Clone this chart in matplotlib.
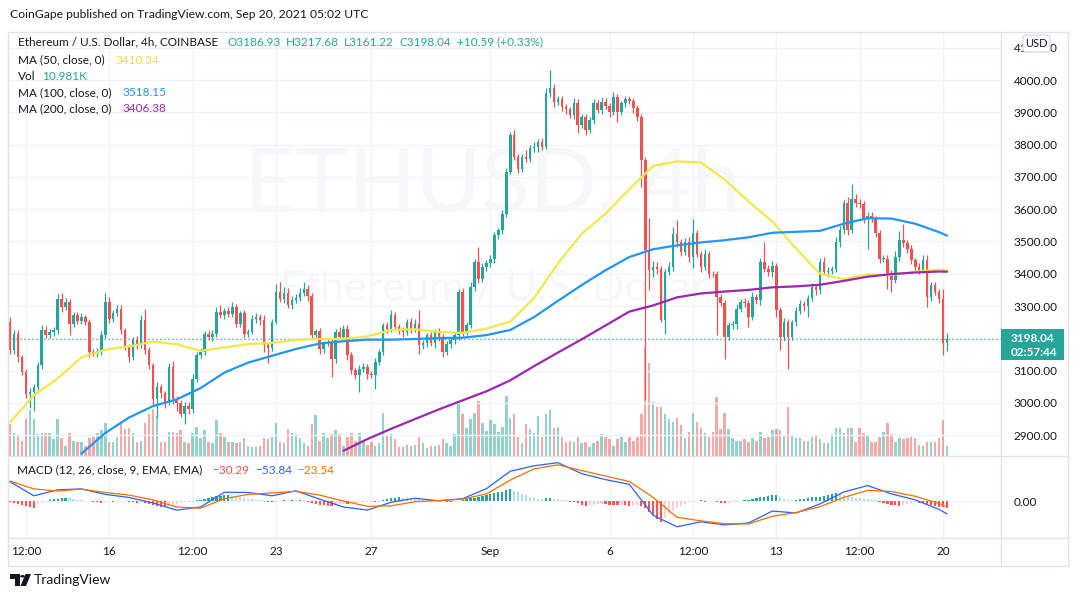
import matplotlib
matplotlib.use("Agg")
import matplotlib.pyplot as plt
import numpy as np
from matplotlib.patches import Rectangle, Polygon, Circle, FancyBboxPatch
from matplotlib.lines import Line2D

FONT = ['Lato', 'DejaVu Sans']
plt.rcParams['font.family'] = FONT

# ---------------- data ----------------
first_open = 3251
closes = [3163, 3215, 3142, 3096, 3028, 3035, 3050, 3116, 3225, 3210,
          3220, 3225, 3323, 3297, 3313, 3246, 3271, 3255, 3265, 3250,
          3158, 3155, 3160, 3210, 3313, 3261, 3277, 3292, 3225, 3173,
          3142, 3194, 3180, 3256, 3163, 3116, 3013, 3049, 3030, 3003,
          3111, 3013, 3000, 2966, 2992, 2980, 3075, 3147, 3158, 3215,
          3205, 3215, 3282, 3272, 3285, 3275, 3297, 3246, 3277, 3215,
          3220, 3261, 3266, 3256, 3178, 3170, 3251, 3344, 3323, 3340,
          3303, 3320, 3325, 3340, 3354, 3330, 3209, 3222, 3168, 3185,
          3188, 3137, 3220, 3204, 3230, 3147, 3101, 3085, 3106, 3110,
          3090, 3088, 3127, 3158, 3240, 3230, 3271, 3235, 3225, 3220,
          3250, 3230, 3245, 3178, 3185, 3209, 3185, 3219, 3205, 3158,
          3183, 3194, 3209, 3344, 3220, 3240, 3359, 3437, 3385, 3420,
          3432, 3447, 3519, 3535, 3586, 3716, 3829, 3762, 3726, 3762,
          3757, 3788, 3793, 3809, 3793, 3959, 3974, 3933, 3940, 3917,
          3910, 3891, 3928, 3860, 3886, 3845, 3876, 3928, 3907, 3933,
          3920, 3902, 3948, 3902, 3928, 3940, 3935, 3912, 3886, 3752,
          3473, 3411, 3420, 3415, 3256, 3405, 3421, 3524, 3499, 3468,
          3499, 3452, 3525, 3462, 3421, 3462, 3400, 3398, 3328, 3310,
          3204, 3240, 3245, 3292, 3313, 3308, 3266, 3328, 3318, 3437,
          3416, 3406, 3425, 3287, 3204, 3250, 3204, 3250, 3286, 3307,
          3300, 3325, 3359, 3349, 3437, 3406, 3410, 3415, 3499, 3535,
          3618, 3535, 3633, 3620, 3615, 3571, 3580, 3570, 3525, 3447,
          3447, 3401, 3380, 3452, 3504, 3494, 3478, 3442, 3421, 3411,
          3442, 3328, 3364, 3344, 3323, 3186.93, 3198.04]

upper_wick = [14, 12, 10, 8, 10, 12, 8, 10, 15, 12,
              10, 10, 15, 18, 12, 10, 12, 10, 12, 8,
              10, 8, 10, 12, 28, 15, 10, 12, 10, 8,
              8, 10, 12, 15, 36, 10, 8, 15, 10, 8,
              12, 20, 10, 8, 12, 10, 15, 10, 12, 8,
              10, 10, 15, 20, 10, 12, 15, 10, 8, 10,
              8, 10, 12, 10, 15, 8, 10, 25, 30, 20,
              15, 10, 12, 15, 20, 12, 10, 8, 10, 8,
              10, 12, 8, 15, 10, 12, 10, 8, 10, 15,
              10, 8, 12, 10, 8, 10, 18, 10, 8, 10,
              10, 12, 15, 42, 10, 8, 12, 10, 12, 8,
              8, 10, 12, 10, 12, 10, 15, 10, 46, 12,
              10, 12, 10, 8, 10, 12, 10, 15, 8, 10,
              20, 10, 15, 8, 10, 15, 57, 15, 10, 12,
              10, 8, 15, 12, 10, 8, 10, 12, 10, 15,
              12, 10, 15, 10, 8, 12, 10, 8, 10, 10,
              10, 100, 20, 15, 10, 10, 15, 20, 42, 10,
              12, 15, 46, 10, 8, 15, 10, 8, 10, 8,
              10, 12, 10, 15, 10, 12, 10, 15, 10, 12,
              62, 10, 15, 8, 10, 12, 10, 8, 10, 12,
              10, 8, 12, 10, 12, 15, 10, 8, 15, 12,
              12, 20, 45, 15, 12, 10, 12, 10, 8, 10,
              10, 12, 10, 20, 30, 51, 12, 10, 8, 12,
              15, 15, 12, 10, 10, 31, 19.64]

lower_wick = [10, 12, 15, 10, 12, 45, 60, 10, 12, 10,
              8, 12, 10, 15, 10, 37, 10, 12, 10, 10,
              15, 10, 12, 10, 8, 12, 10, 8, 12, 10,
              15, 10, 12, 10, 12, 10, 20, 60, 15, 20,
              10, 15, 25, 10, 30, 15, 12, 10, 8, 10,
              10, 12, 10, 8, 12, 10, 10, 12, 10, 15,
              10, 8, 12, 15, 20, 45, 10, 8, 10, 12,
              10, 12, 10, 8, 10, 15, 12, 10, 15, 12,
              10, 57, 12, 10, 8, 15, 12, 10, 52, 10,
              15, 12, 44, 10, 8, 12, 10, 12, 10, 15,
              10, 12, 10, 26, 10, 12, 10, 15, 12, 16,
              10, 12, 10, 15, 12, 10, 8, 12, 15, 12,
              10, 12, 15, 10, 12, 10, 8, 10, 15, 12,
              10, 12, 10, 15, 10, 8, 12, 15, 10, 12,
              15, 10, 12, 25, 10, 15, 10, 12, 10, 12,
              10, 15, 10, 31, 10, 12, 10, 15, 12, 83,
              465, 60, 20, 15, 6, 42, 10, 12, 15, 12,
              10, 15, 35, 10, 15, 10, 12, 8, 119, 10,
              67, 10, 12, 15, 10, 12, 30, 10, 12, 15,
              10, 12, 15, 20, 41, 12, 98, 10, 12, 10,
              15, 33, 10, 15, 12, 10, 15, 12, 10, 15,
              12, 15, 10, 12, 10, 15, 93, 10, 12, 15,
              10, 47, 36, 10, 12, 10, 15, 12, 10, 12,
              10, 31, 12, 10, 15, 37, 25.71]

volume_k = [38, 27, 24, 18, 45, 55, 45, 26, 28, 27,
            27, 20, 44, 21, 11, 28, 18, 17, 16, 12,
            21, 23, 27, 31, 40, 16, 16, 23, 40, 32,
            33, 28, 17, 18, 39, 50, 57, 48, 17, 17,
            29, 29, 28, 31, 16, 15, 28, 35, 21, 31,
            17, 15, 43, 28, 23, 16, 17, 15, 17, 21,
            11, 10, 10, 11, 21, 20, 23, 39, 17, 15,
            32, 28, 26, 21, 15, 12, 38, 49, 18, 27,
            21, 26, 31, 26, 12, 23, 28, 18, 28, 18,
            13, 16, 12, 15, 52, 24, 26, 20, 10, 10,
            13, 11, 13, 22, 15, 9, 11, 11, 13, 20,
            15, 11, 26, 67, 51, 33, 45, 52, 66, 40,
            30, 43, 38, 29, 35, 72, 46, 50, 22, 15,
            38, 32, 28, 48, 23, 50, 56, 34, 35, 23,
            17, 18, 16, 23, 15, 16, 10, 15, 18, 26,
            23, 20, 11, 20, 23, 16, 23, 18, 23, 51,
            132, 113, 65, 59, 59, 50, 45, 41, 46, 37,
            21, 29, 52, 41, 34, 27, 23, 29, 71, 32,
            52, 32, 21, 18, 18, 20, 17, 21, 18, 29,
            21, 23, 31, 32, 31, 24, 59, 24, 21, 21,
            18, 18, 23, 24, 20, 15, 15, 26, 33, 34,
            28, 33, 34, 17, 33, 27, 24, 17, 16, 22,
            29, 39, 26, 17, 21, 20, 21, 22, 21, 13,
            11, 16, 16, 16, 21, 43, 10.981]

# moving averages / MACD read once per day (every 6th 4h candle) + last candle
ma_step = 6
ma50 = [2940, 3023, 3076, 3141, 3165, 3175, 3190, 3182, 3161, 3172,
        3182, 3186, 3195, 3198, 3198, 3206, 3226, 3228, 3220, 3217,
        3230, 3252, 3325, 3432, 3524, 3586, 3662, 3734, 3748, 3745,
        3692, 3624, 3562, 3478, 3400, 3383, 3398, 3397, 3406, 3413, 3410.34]
nan = float('nan')
ma100 = [nan, nan, nan, 2843, 2907, 2955, 2990, 3011, 3046, 3094,
         3125, 3146, 3167, 3184, 3191, 3196, 3196, 3198, 3201, 3202,
         3210, 3226, 3266, 3316, 3365, 3411, 3452, 3476, 3488, 3497,
         3504, 3513, 3527, 3530, 3533, 3555, 3572, 3571, 3555, 3529, 3518.15]
ma200 = [nan] * 14 + [2852, 2888, 2920, 2950, 2980, 3008,
                      3036, 3070, 3114, 3156, 3197, 3240, 3283, 3302, 3327, 3339,
                      3345, 3350, 3358, 3361, 3366, 3378, 3391, 3399, 3404, 3407, 3406.38]
macd_line = [81, 22, 47, 51, 28, 15, -8, -38, -25, 37,
             36, 22, 43, 8, -25, -38, -5, 12, 1, 10,
             52, 125, 148, 161, 115, 90, 70, -60, -108, -87,
             -100, -92, -42, -50, -12, 38, 65, 30, 5, -35, -53.84]
signal_line = [84, 51, 42, 50, 36, 25, 5, -25, -30, 10,
               28, 34, 41, 25, 0, -22, -20, -3, 2, 8,
               30, 88, 135, 152, 128, 105, 82, 15, -68, -83,
               -95, -96, -64, -48, -24, 15, 45, 40, 20, -10, -23.54]
macd_hist = [-3, -8, -12, -16, -20, -25, -29, -15, -8, -4,
             3, 7, 10, 12, 14, 12, 8, 5, 3, 2,
             2, -3, -5, -7, -4, 2, -2, 2, -1, 1,
             -3, -5, -7, -6, -8, -12, -16, -20, -24, -25,
             -20, -16, -12, -9, -6, -4, -2, 3, 6, 10,
             14, 18, 20, 22, 25, 27, 22, 19, 16, 13,
             10, 8, 6, 4, 3, -3, -5, -4, 2, 3,
             2, 4, 4, 5, 3, -5, -8, -12, -15, -18,
             -20, -22, -16, -13, -11, -12, -9, -7, -5, -3,
             -3, -2, -3, -2, 5, 8, 11, 14, 17, 14,
             12, 10, 9, 8, 6, 5, 4, 3, 3, 2,
             -2, -3, 1, 2, 5, 8, 11, 14, 17, 20,
             24, 28, 32, 36, 40, 45, 50, 42, 36, 30,
             24, 18, 13, 10, 8, 11, 12, 10, 9, 6,
             3, -3, -6, -10, -18, -20, -18, -16, -14, -12,
             -13, -15, -17, -18, -16, -18, -20, -19, -17, -20,
             -30, -45, -60, -75, -87, -70, -55, -42, -30, -20,
             -12, -5, -3, 2, 3, -2, 2, 1, -5, -8,
             -10, -8, -6, -2, 2, 3, 6, 9, 12, 15,
             18, 21, 24, 25, 15, 8, 5, 3, 5, 8,
             10, 12, 15, 17, 19, 22, 25, 28, 32, 28,
             24, 20, 17, 14, 11, 9, 7, 6, 5, -5,
             -8, -12, -15, -18, -22, -16, -12, -8, -6, -8,
             -10, -12, -16, -20, -24, -27, -30.29]

tick_pos = [4, 25, 46, 67, 91, 121, 151, 172, 193, 214, 235]
tick_labels = ['12:00', '16', '12:00', '23', '27', 'Sep', '6', '12:00', '13', '12:00', '20']
price_ticks = [2900, 3000, 3100, 3200, 3300, 3400, 3500, 3600, 3700, 3800, 3900, 4000, 4100]
hidden_price_labels = [3200]  # covered by the last-price badge in the reference

# ---------------- style ----------------
UP, DN = '#26a69a', '#ef5350'
TXT = '#131722'
GRID = '#f0f3fa'
BORDER = '#e0e3eb'
C50, C100, C200 = '#f5e64a', '#2196f3', '#9c27b0'
FS = 8.5

W, H = 1079, 598
fig = plt.figure(figsize=(W / 100, H / 100), dpi=100)
fig.patch.set_facecolor('white')


def fx(px):
    return px / W


def fy(py):
    return 1 - py / H


X0, X1 = 8, 1001
MAIN_T, MAIN_B = 32, 455.5
MACD_T, MACD_B = 456, 538
XLIM = (-0.5, 249.6)

axv = fig.add_axes([fx(X0), fy(MAIN_B), fx(X1) - fx(X0), fy(MAIN_T) - fy(MAIN_B)])
ax = fig.add_axes([fx(X0), fy(MAIN_B), fx(X1) - fx(X0), fy(MAIN_T) - fy(MAIN_B)])
axm = fig.add_axes([fx(X0), fy(MACD_B), fx(X1) - fx(X0), fy(MACD_T) - fy(MACD_B)])
ax.patch.set_alpha(0)

n = len(closes)
idx = np.arange(n)
c = np.array(closes, dtype=float)
o = np.array([first_open] + closes[:-1], dtype=float)
is_up = c >= o
colors = np.where(is_up, UP, DN)
body_lo = np.minimum(o, c)
body_hi = np.maximum(o, c)
highs = body_hi + np.array(upper_wick)
lows = body_lo - np.array(lower_wick)

# volume (background)
vol_colors = [(0.149, 0.651, 0.604, 0.5) if u else (0.937, 0.325, 0.314, 0.5) for u in is_up]
axv.bar(idx, volume_k, width=0.62, color=vol_colors, linewidth=0)
axv.set_ylim(0, 516)
axv.set_xlim(*XLIM)
for t in tick_pos:
    axv.axvline(t, color=GRID, lw=1, zorder=0)
axv.axis('off')

# price grid + watermark
ax.set_ylim(2837.2, 4148.8)
ax.set_xlim(*XLIM)
for p in price_ticks:
    ax.axhline(p, color=GRID, lw=1, zorder=0)
ax.text(0.488, 0.634, 'ETHUSD, 4h', transform=ax.transAxes, ha='center', va='center',
        fontsize=64, color='#f6f7f9', zorder=0, family=FONT)
ax.text(0.488, 0.395, 'Ethereum / U.S. Dollar', transform=ax.transAxes, ha='center', va='center',
        fontsize=31, color='#f6f7f9', zorder=0, family=FONT)

# candles
ax.vlines(idx, lows, highs, colors=colors, lw=0.9, zorder=3)
ax.bar(idx, np.maximum(body_hi - body_lo, 2.5), bottom=body_lo, width=0.64,
       color=colors, linewidth=0, zorder=4)

# moving averages
ma_x = list(range(0, n - 2, ma_step)) + [n - 1]
ax.plot(ma_x, ma50, color=C50, lw=1.6, zorder=5, solid_capstyle='round')
ax.plot(ma_x, ma100, color=C100, lw=1.6, zorder=5, solid_capstyle='round')
ax.plot(ma_x, ma200, color=C200, lw=1.6, zorder=5, solid_capstyle='round')

# last price dotted line
ax.axhline(closes[-1], color=UP, lw=0.9, ls=(0, (1, 2.2)), zorder=2)

ax.yaxis.tick_right()
ax.set_yticks(price_ticks)
ax.set_yticklabels(['' if p in hidden_price_labels else f'{p:.2f}' for p in price_ticks])
ax.tick_params(axis='y', length=0, pad=9, labelsize=FS, labelcolor=TXT)
ax.set_xticks([])
for s in ax.spines.values():
    s.set_visible(False)

# MACD pane
axm.set_xlim(*XLIM)
axm.set_ylim(-155, 189)
for t in tick_pos:
    axm.axvline(t, color=GRID, lw=1, zorder=0)
axm.axhline(0, color=GRID, lw=1, zorder=0)
hcols = []
prev = 0
for h in macd_hist:
    if h >= 0:
        hcols.append('#26a69a' if h > prev else '#b2dfdb')
    else:
        hcols.append('#ff5252' if h < prev else '#ffcdd2')
    prev = h
axm.bar(idx, macd_hist, width=0.55, color=hcols, linewidth=0, zorder=2)
axm.plot(ma_x, macd_line, color='#2962ff', lw=0.9, zorder=3)
axm.plot(ma_x, signal_line, color='#ff6d00', lw=0.9, zorder=3)
axm.yaxis.tick_right()
axm.set_yticks([0])
axm.set_yticklabels(['0.00'])
axm.tick_params(axis='y', length=0, pad=9, labelsize=FS, labelcolor=TXT)
axm.set_xticks(tick_pos)
axm.set_xticklabels(tick_labels)
axm.tick_params(axis='x', length=0, pad=6, labelsize=FS, labelcolor=TXT)
for s in axm.spines.values():
    s.set_visible(False)


# frame lines
def hline(y, x0=X0, x1=1068):
    fig.add_artist(Line2D([fx(x0), fx(x1)], [fy(y), fy(y)], color=BORDER, lw=1, zorder=6))


def vline(x, y0=MAIN_T, y1=566):
    fig.add_artist(Line2D([fx(x), fx(x)], [fy(y0), fy(y1)], color=BORDER, lw=1, zorder=6))


hline(MAIN_T)
hline(455.5)
hline(MACD_B)
hline(566)
vline(X0)
vline(X1)
vline(1068)

# last-price label on the price scale
fig.add_artist(Rectangle((fx(1001), fy(360)), fx(1064) - fx(1001), fy(329) - fy(360),
                         transform=fig.transFigure, facecolor=UP, edgecolor='none', zorder=7))
fig.text(fx(1011), fy(338), '3198.04', color='white', fontsize=8.5, fontweight='bold',
         va='center', ha='left', zorder=8)
fig.text(fx(1011), fy(352), '02:57:44', color='white', fontsize=8.5, fontweight='bold',
         va='center', ha='left', zorder=8)

# USD badge
fig.add_artist(FancyBboxPatch((fx(1023), fy(52)), fx(1050) - fx(1023), fy(35) - fy(52),
                              boxstyle='round,pad=0,rounding_size=0.004',
                              transform=fig.transFigure, facecolor='white',
                              edgecolor='#d1d4dc', lw=0.8, zorder=7))
fig.text(fx(1036.5), fy(43.5), 'USD', color=TXT, fontsize=8, ha='center', va='center', zorder=8)

# header and legends
fig.text(fx(10), fy(14), 'CoinGape published on TradingView.com, Sep 20, 2021 05:02 UTC',
         color=TXT, fontsize=8.7, va='center', ha='left')

leg = [(18, 42, 'Ethereum / U.S. Dollar, 4h, COINBASE', TXT),
       (228, 42, 'O3186.93', UP), (286, 42, 'H3217.68', UP), (344, 42, 'L3161.22', UP),
       (400, 42, 'C3198.04', UP), (457, 42, '+10.59 (+0.33%)', UP),
       (18, 60, 'MA (50, close, 0)', TXT), (115, 60, '3410.34', '#f2dc3a'),
       (18, 77, 'Vol', TXT), (42, 77, '10.981K', UP),
       (18, 93, 'MA (100, close, 0)', TXT), (122, 93, '3518.15', C100),
       (18, 109, 'MA (200, close, 0)', TXT), (122, 109, '3406.38', C200),
       (17, 470, 'MACD (12, 26, close, 9, EMA, EMA)', TXT), (212, 470, '\u221230.29', '#ef5350'),
       (255, 470, '\u221253.84', '#2962ff'), (297, 470, '\u221223.54', '#ff6d00')]
for x, y, s, col in leg:
    fig.text(fx(x), fy(y), s, color=col, fontsize=FS, va='center', ha='left', zorder=8)

# TradingView logo
logo_col = '#131722'
fig.add_artist(Polygon([(fx(10), fy(574)), (fx(20), fy(574)), (fx(20), fy(586)), (fx(15.5), fy(586)),
                        (fx(15.5), fy(578.5)), (fx(10), fy(578.5))], closed=True,
                       transform=fig.transFigure, facecolor=logo_col, edgecolor='none'))
fig.add_artist(Circle((fx(22.5), fy(576.3)), 2.3 / W, transform=fig.transFigure,
                      facecolor=logo_col, edgecolor='none'))
fig.add_artist(Polygon([(fx(25.5), fy(574)), (fx(31), fy(574)), (fx(26), fy(586)), (fx(20.5), fy(586))],
                       closed=True, transform=fig.transFigure, facecolor=logo_col, edgecolor='none'))
fig.text(fx(34), fy(580), 'TradingView', color=logo_col, fontsize=10, va='center', ha='left')

fig.savefig('out.png', dpi=100, facecolor='white')
